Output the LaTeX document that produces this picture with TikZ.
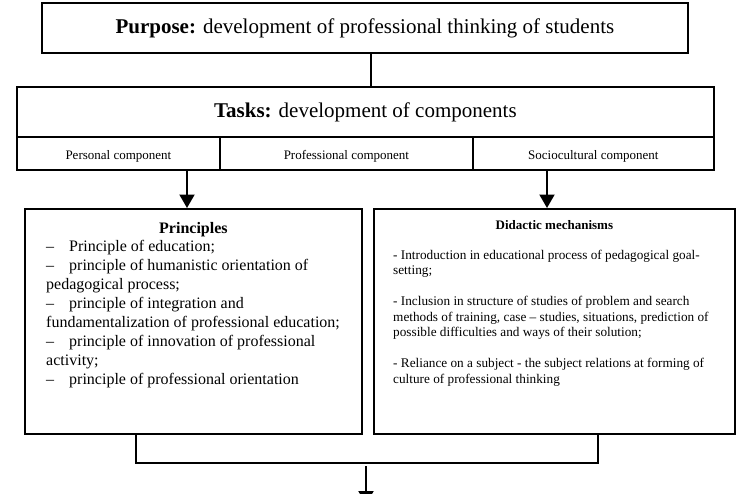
\documentclass[tikz,border=0pt]{standalone}
\usepackage{fontspec}
\setmainfont{Liberation Serif}
\usetikzlibrary{arrows.meta,calc}
\newcommand{\dsh}{\makebox[23pt][l]{–}}
\begin{document}
\begin{tikzpicture}[x=1pt,y=-1pt,
  box/.style={draw,line width=1.8pt,inner sep=0pt,anchor=north west},
  conn/.style={line width=2pt},
  arr/.style={line width=2pt,-{Triangle[length=13.5pt,width=15pt]}},
  bigtxt/.style={font=\fontsize{21}{25}\selectfont},
  comptxt/.style={font=\fontsize{13}{15}\selectfont,text height=14pt,text depth=2pt},
  body/.style={inner sep=0pt,anchor=base west}
]
\path[fill=white] (0,0) rectangle (754,493);
\useasboundingbox (0,0) rectangle (754,493);

% boxes
\node[box,bigtxt,minimum width=646pt,minimum height=50pt,text height=15pt,text depth=3pt] (purpose) at (41,2)
  {\textbf{Purpose:} development of professional thinking of students};
\node[box,bigtxt,minimum width=697pt,minimum height=50pt,text height=15pt,text depth=4pt] (tasks) at (16,86)
  {\textbf{Tasks:} development of components};
\node[box,comptxt,minimum width=203pt,minimum height=33pt] (personal) at (16,136) {Personal component};
\node[box,comptxt,minimum width=253pt,minimum height=33pt] (professional) at (219,136) {Professional component};
\node[box,comptxt,minimum width=241pt,minimum height=33pt] (socio) at (472,136) {Sociocultural component};
\node[box,minimum width=337pt,minimum height=225pt] (principles) at (24,208) {};
\node[box,minimum width=361pt,minimum height=225pt] (didactic) at (373,208) {};

% texts in the lower boxes
\node[inner sep=0pt,anchor=base,font=\bfseries\fontsize{16}{19}\selectfont] (phead) at ($(principles.north)+(0,25.5)$) {Principles};
\node[body,font=\fontsize{16}{19}\selectfont] (pbody) at (46,251.5) {%
\begin{tabular}[t]{@{}l@{}}
\dsh Principle of education;\\
\dsh principle of humanistic orientation of\\
pedagogical process;\\
\dsh principle of integration and\\
fundamentalization of professional education;\\
\dsh principle of innovation of professional\\
activity;\\
\dsh principle of professional orientation
\end{tabular}};

\node[inner sep=0pt,anchor=base,font=\bfseries\fontsize{13}{15.5}\selectfont] (dhead) at ($(didactic.north)+(0,21)$) {Didactic mechanisms};
\node[body,font=\fontsize{13.25}{15.5}\selectfont] (dbody) at (393,259) {%
\begin{tabular}[t]{@{}l@{}}
- Introduction in educational process of pedagogical goal-\\
setting;\\[15.5pt]
- Inclusion in structure of studies of problem and search\\
methods of training, case – studies, situations, prediction of\\
possible difficulties and ways of their solution;\\[15.5pt]
- Reliance on a subject - the subject relations at forming of\\
culture of professional thinking
\end{tabular}};

% connectors
\coordinate (c1) at (371,0);
\draw[conn] (purpose.south -| c1) -- (tasks.north -| c1);
\coordinate (a1) at (187,0);
\coordinate (a2) at (547,0);
\draw[arr] (personal.south -| a1) -- (principles.north -| a1);
\draw[arr] (socio.south -| a2) -- (didactic.north -| a2);
\coordinate (bl) at (136,463);
\coordinate (br) at (598,463);
\draw[conn] (principles.south -| bl) -- (bl) -- (br) -- (didactic.south -| br);
\coordinate (outs) at (366,466);
\coordinate (oute) at (366,504.5);
\draw[arr] (outs) -- (oute);
\end{tikzpicture}
\end{document}
